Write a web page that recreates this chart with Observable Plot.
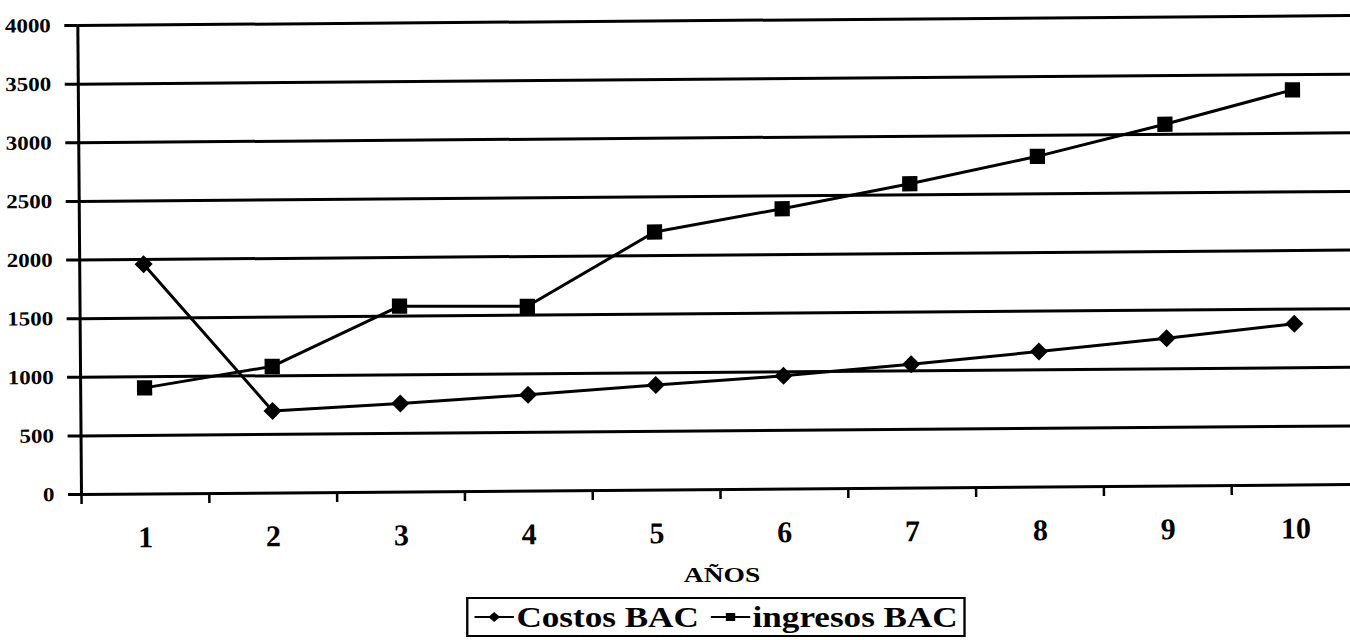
<!DOCTYPE html>
<html>
<head>
<meta charset="utf-8">
<script src="https://cdn.jsdelivr.net/npm/d3@7"></script>
<script src="https://cdn.jsdelivr.net/npm/@observablehq/plot@0.6"></script>
<style>
  html, body { margin: 0; padding: 0; background: #fff; }
  body { width: 1350px; height: 640px; position: relative; overflow: hidden;
         font-family: "Liberation Serif", "Times New Roman", serif; color: #000; }
  #chart { position: absolute; left: 0; top: 0; transform: rotate(-0.45deg); transform-origin: 81px 494px; }
  #xlabel { position: absolute; left: 722px; top: 564px; font-size: 22px; line-height: 22px;
            font-weight: bold; white-space: nowrap; transform: translateX(-50%) scaleX(1.25); }
  #legend { position: absolute; left: 716px; top: 597px; height: 40px; box-sizing: border-box;
            border: 2px solid #000; padding: 0 5px; display: flex; align-items: center;
            white-space: nowrap; font-size: 30px; font-weight: bold; line-height: 32px;
            transform: translateX(-50%) scaleX(1.17); transform-origin: center; }
  #legend .item { display: flex; align-items: center; margin-right: 10px; }
  #legend .item:last-child { margin-right: 0; }
  #legend svg { margin-right: 2px; }
</style>
</head>
<body>
<div id="chart"></div>
<div id="xlabel"></div>
<div id="legend"></div>
<script>
// ---- data ----
const years = [1, 2, 3, 4, 5, 6, 7, 8, 9, 10];
const costos = [1960, 700, 755, 820, 895, 965, 1055, 1155, 1260, 1375];
const ingresos = [905, 1080, 1585, 1575, 2200, 2390, 2595, 2820, 3085, 3370];
const seriesNames = ["Costos BAC", "ingresos BAC"];
const yTicks = [0, 500, 1000, 1500, 2000, 2500, 3000, 3500, 4000];
const xTitle = "AÑOS";

// ---- derived tables ----
const rows = years.flatMap((yr, i) => [
  {year: yr, value: costos[i], serie: seriesNames[0]},
  {year: yr, value: ingresos[i], serie: seriesNames[1]}
]);
const costRows = rows.filter(d => d.serie === seriesNames[0]);
const incRows = rows.filter(d => d.serie === seriesNames[1]);
// category boundaries (between years)
const bounds = [years[0] - 0.5, ...years.map(y => y + 0.5)];

const diamondSym = {
  draw(ctx, size) {
    const r = Math.sqrt(size / 2);
    ctx.moveTo(0, -r); ctx.lineTo(r, 0); ctx.lineTo(0, r); ctx.lineTo(-r, 0); ctx.closePath();
  }
};

const chart = Plot.plot({
  width: 1350,
  height: 560,
  marginLeft: 81,
  marginRight: -9,
  marginTop: 25,
  marginBottom: 66,
  style: {fontFamily: "'Liberation Serif', 'Times New Roman', serif", color: "#000", background: "transparent", overflow: "visible"},
  x: {domain: [bounds[0], bounds[bounds.length - 1]], label: null},
  y: {domain: [yTicks[0], yTicks[yTicks.length - 1]], label: null},
  marks: [
    Plot.ruleY(yTicks, {stroke: "#000", strokeWidth: 3}),
    Plot.ruleX(bounds.slice(0, 1), {stroke: "#000", strokeWidth: 3}),
    Plot.axisY({ticks: yTicks, tickSize: 13, tickPadding: 14, fontSize: 20, fontWeight: "bold",
                strokeWidth: 3, label: null, tickFormat: d => String(d)}),
    Plot.axisX({ticks: bounds, tickSize: 10, tickFormat: () => "", strokeWidth: 2.5, label: null}),
    Plot.axisX({ticks: years, tickSize: 0, tickPadding: 32, fontSize: 30, fontWeight: "bold",
                label: null, tickFormat: d => String(d)}),
    Plot.line(rows, {x: "year", y: "value", z: "serie", stroke: "#000", strokeWidth: 3}),
    Plot.dot(costRows, {x: "year", y: "value", symbol: diamondSym, r: 7.2, fill: "#000", stroke: "none"}),
    Plot.dot(incRows, {x: "year", y: "value", symbol: "square", r: 8.6, fill: "#000", stroke: "none"})
  ]
});
document.getElementById("chart").appendChild(chart);

// widen y tick labels slightly, like the scanned original
chart.querySelectorAll('[aria-label="y-axis tick label"] text').forEach(t => {
  t.setAttribute("font-size", "20");
  t.setAttribute("font-weight", "bold");
  const tr = t.getAttribute("transform");
  if (tr) t.setAttribute("transform", tr + " scale(1.15,1)");
});
chart.querySelectorAll('[aria-label="x-axis tick label"] text').forEach(t => {
  t.setAttribute("font-weight", "bold");
});

document.getElementById("xlabel").textContent = xTitle;

// legend
const legend = document.getElementById("legend");
const icons = [
  `<svg width="34" height="14"><line x1="0" y1="7" x2="34" y2="7" stroke="#000" stroke-width="2"/><path d="M17,2 L22,7 L17,12 L12,7 Z" fill="#000"/></svg>`,
  `<svg width="34" height="14"><line x1="0" y1="7" x2="34" y2="7" stroke="#000" stroke-width="2"/><rect x="13" y="3" width="8" height="8" fill="#000"/></svg>`
];
seriesNames.forEach((name, i) => {
  const item = document.createElement("span");
  item.className = "item";
  item.innerHTML = icons[i];
  const label = document.createElement("span");
  label.textContent = name;
  item.appendChild(label);
  legend.appendChild(item);
});
</script>
</body>
</html>
